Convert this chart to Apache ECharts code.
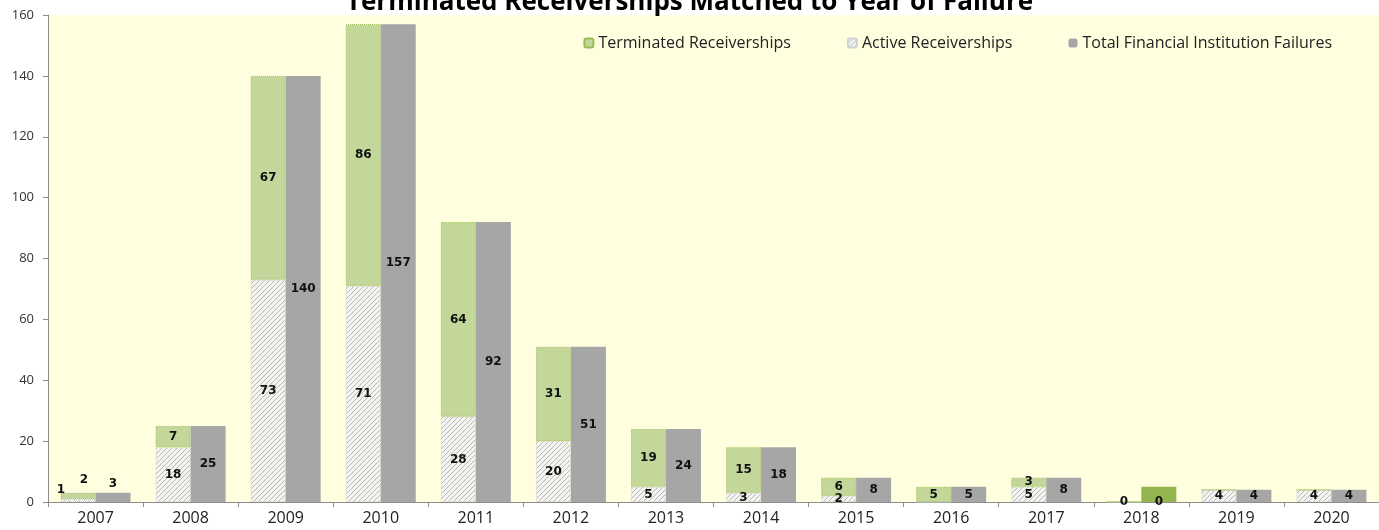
<!DOCTYPE html>
<html>
<head>
<meta charset="utf-8">
<title>Terminated Receiverships Matched to Year of Failure</title>
<script src="https://cdn.jsdelivr.net/npm/echarts@6/dist/echarts.min.js"></script>
<style>
    html, body { margin: 0; padding: 0; background: #fff; }
</style>
</head>
<body>
<div id="main" style="width: 1379px;height:530px;"></div>
<script type="text/javascript">
    // data
    var years = ['2007', '2008', '2009', '2010', '2011', '2012', '2013', '2014', '2015', '2016', '2017', '2018', '2019', '2020'];
    var active = [1, 18, 73, 71, 28, 20, 5, 3, 2, 0, 5, 0, 4, 4];
    var terminated = [2, 7, 67, 86, 64, 31, 19, 15, 6, 5, 3, 0, 0, 0];
    var totals = [3, 25, 140, 157, 92, 51, 24, 18, 8, 5, 8, 0, 4, 4];
    // the solid green block drawn at 2018 in the original
    var marker2018 = [null, null, null, null, null, null, null, null, null, null, null, 5, null, null];
    var yTicks = [0, 20, 40, 60, 80, 100, 120, 140, 160];

    // hatch pattern for active receiverships
    var hatch = document.createElement('canvas');
    hatch.width = 5;
    hatch.height = 5;
    var ctx = hatch.getContext('2d');
    ctx.fillStyle = '#f4f4f0';
    ctx.fillRect(0, 0, 5, 5);
    ctx.strokeStyle = '#b8b8b8';
    ctx.lineWidth = 1;
    ctx.beginPath();
    ctx.moveTo(0, 5); ctx.lineTo(5, 0);
    ctx.moveTo(-1, 1); ctx.lineTo(1, -1);
    ctx.moveTo(4, 6); ctx.lineTo(6, 4);
    ctx.stroke();

    function barLabel(extra) {
        var l = {
            show: true,
            position: 'inside',
            color: '#111',
            fontWeight: 'bold',
            fontSize: 12,
            fontFamily: 'DejaVu Sans'
        };
        for (var k in extra) l[k] = extra[k];
        return l;
    }

    // 2007 bars are too short, their labels sit above them
    function withTopLabel(arr, offset) {
        return arr.map(function (v, i) {
            if (i === 0) {
                return {value: v, label: {position: 'top', offset: offset}};
            }
            return v;
        });
    }

    var myChart = echarts.init(document.getElementById('main'));

    var option = {
        animation: false,
        backgroundColor: '#ffffff',
        title: {
            text: 'Terminated Receiverships Matched to Year of Failure',
            left: 'center',
            top: -15,
            textStyle: {
                fontFamily: 'Open Sans',
                fontSize: 26,
                fontWeight: 'bold',
                color: '#000'
            }
        },
        legend: {
            data: ['Terminated Receiverships', 'Active Receiverships', 'Total Financial Institution Failures'],
            top: 30,
            right: 42,
            itemWidth: 9,
            itemHeight: 9,
            itemGap: 56,
            textStyle: {
                fontFamily: 'Open Sans',
                fontSize: 16,
                color: '#222'
            }
        },
        grid: {
            left: 48,
            right: 0,
            top: 15,
            bottom: 28,
            show: true,
            backgroundColor: '#ffffdf',
            borderWidth: 0
        },
        xAxis: {
            type: 'category',
            data: years,
            axisLine: {lineStyle: {color: '#8c8c8c'}},
            axisTick: {show: true, length: 5, lineStyle: {color: '#8c8c8c'}},
            axisLabel: {
                fontFamily: 'Open Sans',
                fontSize: 16,
                color: '#222',
                margin: 8
            }
        },
        yAxis: {
            type: 'value',
            min: yTicks[0],
            max: yTicks[yTicks.length - 1],
            interval: 20,
            axisLine: {show: true, lineStyle: {color: '#8c8c8c'}},
            axisTick: {show: true, length: 5, lineStyle: {color: '#8c8c8c'}},
            splitLine: {show: false},
            axisLabel: {
                fontFamily: 'Open Sans',
                fontSize: 13,
                color: '#333',
                margin: 14
            }
        },
        series: [
            {
                name: 'Active Receiverships',
                type: 'bar',
                stack: 'rec',
                barWidth: 35,
                barGap: '0%',
                itemStyle: {
                    color: {image: hatch, repeat: 'repeat'},
                    borderColor: '#d0d0d0',
                    borderWidth: 1,
                    borderType: 'dotted'
                },
                label: barLabel({
                    formatter: function (p) {
                        return (p.value > 0 || terminated[p.dataIndex] === 0) ? p.value : '';
                    }
                }),
                data: withTopLabel(active, [-17, 2])
            },
            {
                name: 'Terminated Receiverships',
                type: 'bar',
                stack: 'rec',
                barWidth: 35,
                barGap: '0%',
                itemStyle: {
                    color: '#c4d79b',
                    borderColor: '#9bbb59',
                    borderWidth: 1,
                    borderType: 'dotted'
                },
                label: barLabel({
                    formatter: function (p) {
                        return p.value > 0 ? p.value : '';
                    }
                }),
                data: withTopLabel(terminated, [6, -2])
            },
            {
                name: 'Total Financial Institution Failures',
                type: 'bar',
                stack: 'tot',
                barWidth: 35,
                barGap: '0%',
                itemStyle: {color: '#a6a6a6'},
                label: barLabel({}),
                data: withTopLabel(totals, [0, 2])
            },
            {
                name: 'marker',
                type: 'bar',
                stack: 'tot',
                barWidth: 35,
                barGap: '0%',
                itemStyle: {color: '#92b550'},
                label: {show: false},
                data: marker2018
            }
        ]
    };

    myChart.setOption(option);
</script>
</body>
</html>
